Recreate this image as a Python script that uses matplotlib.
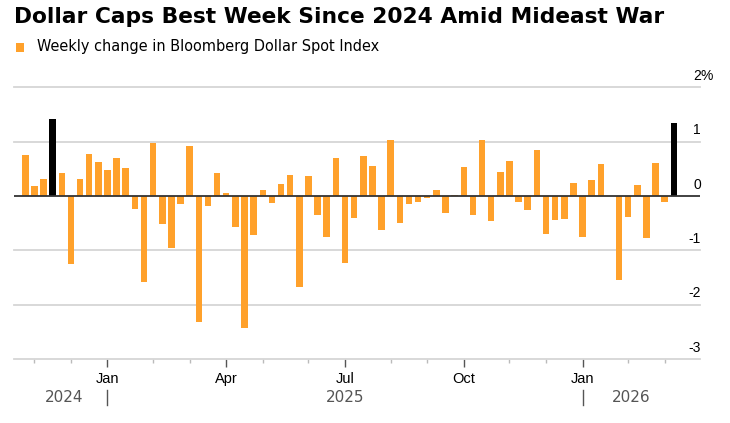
import matplotlib
matplotlib.use("Agg")
import matplotlib.pyplot as plt
import matplotlib.dates as mdates
import matplotlib.transforms as mtransforms
from matplotlib.patches import Rectangle
from matplotlib.lines import Line2D
from matplotlib import font_manager
import pandas as pd

# weekly change in Bloomberg Dollar Spot Index, %
weekly_change = [0.76, 0.19, 0.31, 1.42, 0.43, -1.25, 0.31, 0.78, 0.62, 0.48,
                 0.70, 0.52, -0.23, -1.58, 0.97, -0.52, -0.96, -0.15, 0.92, -2.31,
                 -0.18, 0.42, 0.06, -0.56, -2.43, -0.72, 0.11, -0.12, 0.23, 0.39,
                 -1.68, 0.37, -0.34, -0.75, 0.71, -1.24, -0.41, 0.73, 0.56, -0.63,
                 1.03, -0.50, -0.15, -0.10, -0.04, 0.11, -0.31, 0.02, 0.54, -0.34,
                 1.04, -0.46, 0.45, 0.64, -0.11, -0.25, 0.84, -0.69, -0.44, -0.42,
                 0.24, -0.75, 0.29, 0.60, 0.00, -1.54, -0.38, 0.20, -0.77, 0.61,
                 -0.10, 1.34]
weeks = pd.date_range("2024-10-30", periods=len(weekly_change), freq="7D")
highlight = [3, len(weekly_change) - 1]   # best weeks in black

month_ticks = ["2025-01-01", "2025-04-02", "2025-07-02", "2025-10-01", "2025-12-31"]
month_labels = ["Jan", "Apr", "Jul", "Oct", "Jan"]
minor_ticks = ["2024-11-06", "2024-12-04", "2025-02-05", "2025-03-05", "2025-04-30",
               "2025-06-04", "2025-08-06", "2025-09-03", "2025-11-05", "2025-12-03",
               "2026-02-04", "2026-03-04"]
year_labels = ["2024", "2025", "2026"]
year_pos = ["2024-11-29", "2025-07-02", "2026-02-06"]
year_breaks = ["2025-01-01", "2025-12-31"]
y_ticks = [2, 1, 0, -1, -2, -3]

ORANGE = "#ffa12b"
GRID = "#d6d6d6"

names = {f.name for f in font_manager.fontManager.ttflist}
base_font = "Liberation Sans" if "Liberation Sans" in names else "DejaVu Sans"
narrow_font = "Liberation Sans Narrow" if "Liberation Sans Narrow" in names else base_font
wide_font = "DejaVu Sans"
plt.rcParams["font.family"] = base_font

W, H = 730, 423
fig = plt.figure(figsize=(W / 100, H / 100), dpi=100)
fig.patch.set_facecolor("white")

# axes: left 13px, right 700px, -3 line at y=359, 54.3 px per 1%
ymin, ymax = -3, 2.25
top_px = 359 - (ymax - ymin) * 54.3
ax = fig.add_axes([13.5 / W, (H - 359) / H, (700 - 13.5) / W, (359 - top_px) / H])

colors = [ORANGE] * len(weekly_change)
for i in highlight:
    colors[i] = "black"
ax.bar(weeks, weekly_change, width=5, color=colors, zorder=2)

for v in y_ticks[:-1]:
    if v == 0:
        ax.axhline(0, color="#333333", lw=1.3, zorder=3)
    else:
        ax.axhline(v, color=GRID, lw=1.3, zorder=1, clip_on=False)

ax.set_ylim(ymin, ymax)
ax.set_xlim(pd.Timestamp("2024-10-21"), pd.Timestamp("2026-03-31"))

for s in ["top", "left", "right"]:
    ax.spines[s].set_visible(False)
ax.spines["bottom"].set_color(GRID)
ax.spines["bottom"].set_linewidth(1.3)
ax.set_yticks([])

ax.set_xticks(pd.to_datetime(month_ticks))
ax.set_xticklabels([])
ax.set_xticks(pd.to_datetime(minor_ticks), minor=True)
ax.tick_params(axis="x", which="major", length=5.5, width=1, color="#555555")
ax.tick_params(axis="x", which="minor", length=3, width=1, color="#bbbbbb")

# month and year labels under the axis
xfig = mtransforms.blended_transform_factory(ax.transData, fig.transFigure)
for d, lab in zip(month_ticks, month_labels):
    ax.text(pd.Timestamp(d), 1 - 379 / H, lab, transform=xfig, ha="center", va="center",
            fontsize=10.5, family=narrow_font, color="black")
for d, lab in zip(year_pos, year_labels):
    ax.text(pd.Timestamp(d), 1 - 397 / H, lab, transform=xfig, ha="center", va="center",
            fontsize=11, family=wide_font, color="#555555")
for d in year_breaks:
    x = mdates.date2num(pd.Timestamp(d))
    fig.add_artist(Line2D([x, x], [1 - 390 / H, 1 - 405 / H], transform=xfig,
                          color="#555555", lw=1))

# y labels sit above their gridlines on the right
for v in y_ticks:
    ax.annotate(str(v), xy=(1, v), xycoords=("axes fraction", "data"),
                xytext=(0.7, 5.4), textcoords="offset points",
                ha="right", va="baseline", fontsize=10, color="black")
ax.annotate("%", xy=(1, 2), xycoords=("axes fraction", "data"),
            xytext=(0.7, 5.4), textcoords="offset points",
            ha="left", va="baseline", fontsize=10, color="black")

# title and legend
fig.text(14 / W, 1 - 23 / H, "Dollar Caps Best Week Since 2024 Amid Mideast War",
         fontsize=15.7, fontweight="bold", family=wide_font, va="baseline", ha="left")
fig.add_artist(Rectangle((16 / W, 1 - 52 / H), 7.5 / W, 8.5 / H, transform=fig.transFigure,
                         color=ORANGE, lw=0))
fig.text(37 / W, 1 - 46 / H, "Weekly change in Bloomberg Dollar Spot Index",
         fontsize=10.45, family=wide_font, va="center", ha="left")

fig.savefig("out.png", dpi=100)
